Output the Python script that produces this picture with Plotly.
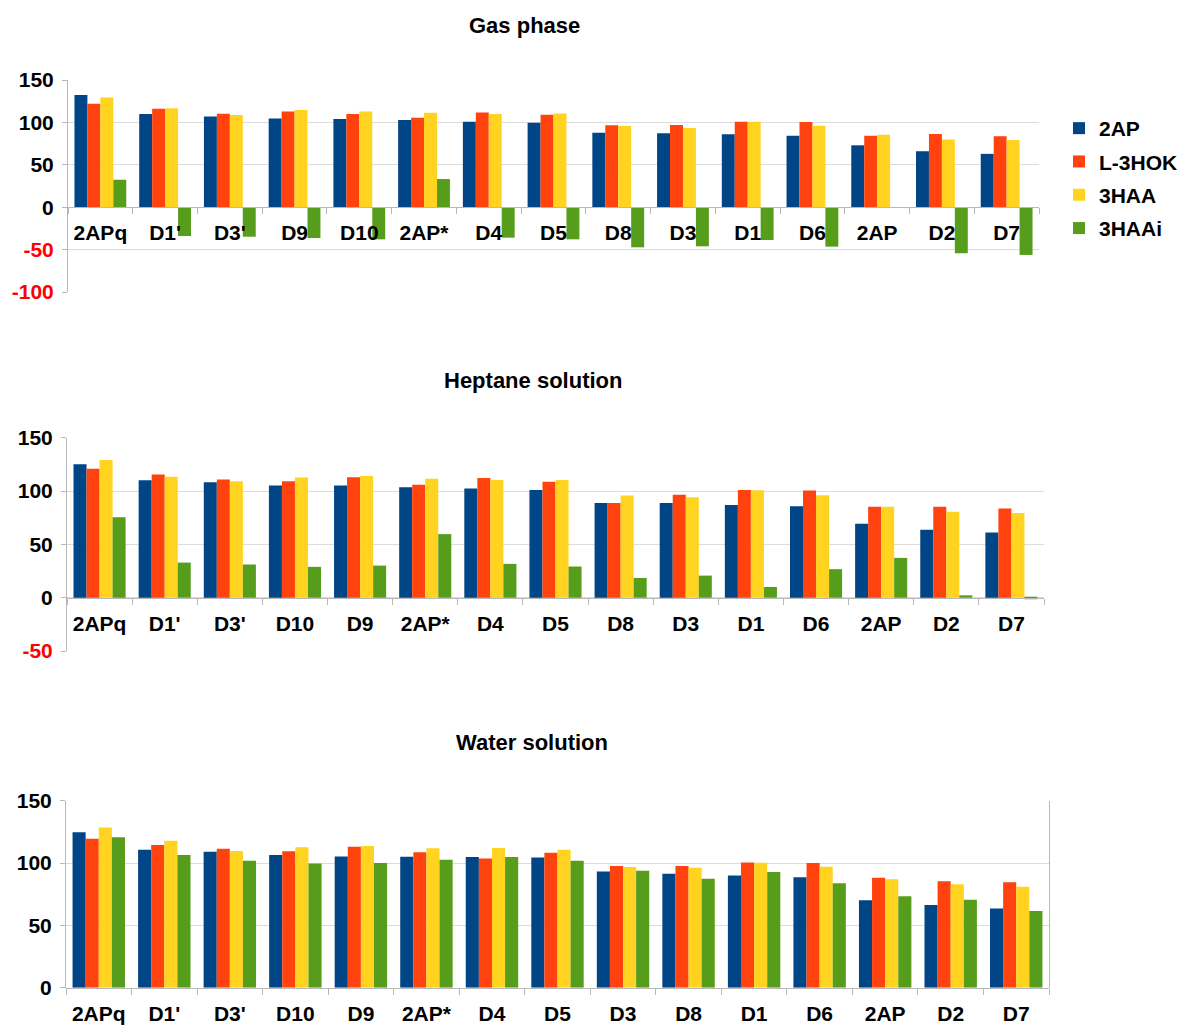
import plotly.graph_objects as go

# ---- data -------------------------------------------------------------
series_names = ["2AP", "L-3HOK", "3HAA", "3HAAi"]
series_colors = ["#004586", "#ff420e", "#ffd320", "#579d1c"]

gas_categories = ["2APq", "D1'", "D3'", "D9", "D10", "2AP*", "D4", "D5",
                  "D8", "D3", "D1", "D6", "2AP", "D2", "D7"]
gas_2ap = [132.4, 109.8, 107.0, 104.7, 103.9, 102.7, 100.8, 99.6,
           87.9, 87.1, 85.9, 84.4, 73.0, 66.0, 62.9]
gas_l3hok = [121.9, 116.0, 110.2, 112.9, 109.8, 105.5, 111.7, 109.0,
             96.5, 96.9, 100.8, 100.4, 84.4, 86.3, 83.6]
gas_3haa = [129.3, 116.8, 108.6, 114.5, 112.9, 111.3, 109.8, 110.5,
            95.7, 93.4, 100.8, 96.1, 85.5, 79.7, 79.3]
gas_3haai = [32.4, -34.0, -34.8, -36.3, -37.9, 33.2, -35.9, -37.9,
             -47.3, -46.1, -38.7, -46.5, None, -54.3, -56.3]

hep_categories = ["2APq", "D1'", "D3'", "D10", "D9", "2AP*", "D4", "D5",
                  "D8", "D3", "D1", "D6", "2AP", "D2", "D7"]
hep_2ap = [125.2, 110.1, 108.3, 105.1, 105.1, 103.5, 102.3, 101.0,
           88.8, 88.8, 86.9, 85.7, 69.3, 63.7, 61.2]
hep_l3hok = [120.8, 115.5, 110.8, 109.2, 113.0, 106.0, 112.3, 108.6,
             88.8, 96.6, 101.0, 100.4, 85.3, 85.3, 83.5]
hep_3haa = [129.0, 113.3, 109.2, 112.6, 114.2, 111.4, 110.4, 110.4,
            95.7, 94.1, 100.7, 96.0, 85.3, 80.6, 79.4]
hep_3haai = [75.3, 32.9, 31.1, 28.9, 30.1, 59.6, 31.7, 29.2,
             18.5, 20.7, 10.0, 26.7, 37.3, 2.2, -1.5]

wat_categories = ["2APq", "D1'", "D3'", "D10", "D9", "2AP*", "D4", "D5",
                  "D3", "D8", "D1", "D6", "2AP", "D2", "D7"]
wat_2ap = [124.6, 110.7, 109.1, 106.4, 105.3, 105.1, 104.8, 104.5,
           93.3, 91.4, 90.1, 88.5, 70.1, 66.3, 63.6]
wat_l3hok = [119.5, 114.4, 111.5, 109.4, 113.1, 108.6, 103.7, 108.3,
             97.6, 97.6, 100.5, 100.0, 88.2, 85.3, 84.5]
wat_3haa = [128.6, 117.9, 109.6, 112.6, 113.6, 111.8, 112.0, 110.7,
            96.8, 96.3, 100.3, 97.1, 86.9, 82.9, 81.0]
wat_3haai = [120.6, 106.4, 101.9, 99.7, 100.0, 102.7, 104.8, 101.9,
             93.9, 87.4, 92.8, 83.7, 73.3, 70.6, 61.5]

panel_titles = ["Gas phase", "Heptane solution", "Water solution"]
gas_ticks = [150, 100, 50, 0, -50, -100]
hep_ticks = [150, 100, 50, 0, -50]
wat_ticks = [150, 100, 50, 0]

# ---- layout geometry (px in a 1183 x 1026 page) -------------------------
W, H = 1183, 1026
FONT = "Liberation Sans"
GRID = "#dcdcdc"
AXIS = "#b8b8b8"


def px_x(v):
    return v / W


def px_y(v):
    return 1 - v / H


panels = [
    dict(cats=gas_categories, data=[gas_2ap, gas_l3hok, gas_3haa, gas_3haai],
         ticks=gas_ticks, yr=(-100, 150), xd=(68, 1039), yd=(292, 80),
         title_xy=(524, 25), mirror=False),
    dict(cats=hep_categories, data=[hep_2ap, hep_l3hok, hep_3haa, hep_3haai],
         ticks=hep_ticks, yr=(-50, 150), xd=(67, 1044), yd=(651, 437.7),
         title_xy=(533, 380), mirror=False),
    dict(cats=wat_categories, data=[wat_2ap, wat_l3hok, wat_3haa, wat_3haai],
         ticks=wat_ticks, yr=(0, 150), xd=(66, 1049), yd=(987.7, 800.7),
         title_xy=(532, 742), mirror=True),
]

fig = go.Figure()
layout = dict(
    width=W, height=H,
    margin=dict(l=0, r=0, t=0, b=0, autoexpand=False),
    paper_bgcolor="white", plot_bgcolor="white",
    barmode="group", bargap=0.2, bargroupgap=0,
    font=dict(family=FONT, color="#000000"),
    showlegend=True,
    legend=dict(x=px_x(1059), y=px_y(108), xanchor="left", yanchor="top",
                font=dict(family=FONT, size=21, weight="bold", color="#000000"),
                tracegroupgap=3, itemwidth=30, bgcolor="rgba(0,0,0,0)"),
    annotations=[],
)


def tick_label(v):
    if v < 0:
        return f"<span style='color:#ff0000'>{v}</span>"
    return str(v)


for i, p in enumerate(panels, start=1):
    xa = "x" if i == 1 else f"x{i}"
    ya = "y" if i == 1 else f"y{i}"
    for name, color, values in zip(series_names, series_colors, p["data"]):
        fig.add_trace(go.Bar(
            x=p["cats"], y=values, name=name, xaxis=xa, yaxis=ya,
            marker=dict(color=color, line=dict(width=0)),
            legendgroup=name, showlegend=(i == 1),
        ))

    ymin, ymax = p["yr"]
    y0, y1 = px_y(p["yd"][0]), px_y(p["yd"][1])
    zero_pos = y0 + (0 - ymin) / (ymax - ymin) * (y1 - y0)

    xkey = "xaxis" if i == 1 else f"xaxis{i}"
    ykey = "yaxis" if i == 1 else f"yaxis{i}"
    layout[xkey] = dict(
        domain=[px_x(p["xd"][0]), px_x(p["xd"][1])],
        anchor="free", position=zero_pos, automargin=False,
        type="category", categoryorder="array", categoryarray=p["cats"],
        showgrid=False, zeroline=False,
        showline=True, linecolor=AXIS, linewidth=1,
        ticks="outside", tickson="boundaries", ticklen=6,
        tickcolor=AXIS, tickwidth=1,
        tickfont=dict(family=FONT, size=21, weight="bold", color="#000000"),
        ticklabelstandoff=7,
        fixedrange=True,
    )
    layout[ykey] = dict(
        domain=[y0, y1], anchor=xa, range=[ymin, ymax], automargin=False,
        tickmode="array", tickvals=p["ticks"],
        ticktext=[tick_label(v) for v in p["ticks"]],
        showgrid=True, gridcolor=GRID, gridwidth=1,
        zeroline=False,
        showline=True, linecolor=AXIS, linewidth=1,
        mirror=p["mirror"],
        ticks="outside", ticklen=5, tickcolor=AXIS, tickwidth=1,
        tickfont=dict(family=FONT, size=21, weight="bold", color="#000000"),
        ticklabelstandoff=4,
        fixedrange=True,
    )
    layout["annotations"].append(dict(
        text=panel_titles[i - 1], xref="paper", yref="paper",
        x=px_x(p["title_xy"][0]), y=px_y(p["title_xy"][1]),
        xanchor="center", yanchor="middle", showarrow=False,
        font=dict(family=FONT, size=22, weight="bold", color="#000000"),
    ))

fig.update_layout(**layout)
fig.write_html("out.html")
